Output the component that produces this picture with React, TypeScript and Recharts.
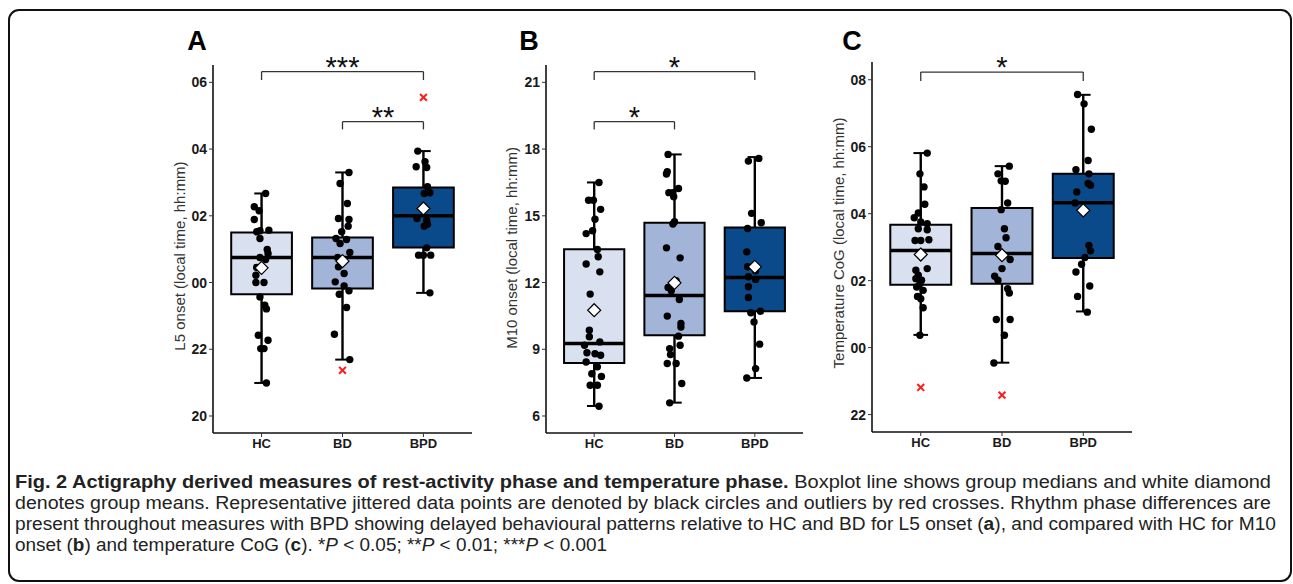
import React from 'react';
import {
  ScatterChart, Scatter, XAxis, YAxis, ReferenceArea, ReferenceLine,
} from 'recharts';

// ---------- data ----------
const CATEGORIES = ['HC', 'BD', 'BPD'];
const BOX_FILLS = ['#d9e0ef', '#a2b4d8', '#0a4a8a'];

// Panel A: L5 onset (hours, 24 = 00:00)
const A_TICKS = [20, 22, 24, 26, 28, 30];
const A_BOX = [
  { q1: 23.65, med: 24.75, q3: 25.5, lo: 20.99, hi: 26.67, mean: 24.44 },
  { q1: 23.82, med: 24.75, q3: 25.35, lo: 21.69, hi: 27.3, mean: 24.64 },
  { q1: 25.05, med: 26.0, q3: 26.85, lo: 23.69, hi: 27.94, mean: 26.22 },
];
const A_HC = [
  [0.05, 26.67], [-0.09, 26.27], [-0.03, 26.15], [-0.09, 25.89], [-0.06, 25.52], [-0.02, 25.55],
  [0.09, 25.57], [-0.02, 25.32], [0.07, 24.99], [0.08, 24.87], [-0.02, 24.75], [0.05, 24.69],
  [-0.06, 24.45], [-0.07, 24.22], [-0.07, 24.0], [0.03, 24.0], [-0.02, 23.57], [0.04, 23.32],
  [0.06, 23.21], [-0.04, 22.42], [0.08, 22.27], [-0.01, 22.02], [0.03, 22.02], [0.06, 20.99],
];
const A_BD = [
  [0.08, 27.3], [-0.03, 26.97], [0.06, 26.37], [-0.05, 25.92], [0.08, 25.89], [0.07, 25.69],
  [-0.01, 25.52], [-0.08, 25.32], [0.05, 25.29], [-0.03, 25.17], [0.09, 24.9], [-0.06, 24.75],
  [-0.05, 24.47], [0.02, 24.27], [-0.09, 24.02], [0.02, 23.9], [-0.04, 23.65], [0.08, 23.75],
  [0.05, 23.25], [-0.1, 22.45], [0.09, 21.69],
];
const A_BPD = [
  [-0.07, 27.94], [0.02, 27.62], [-0.09, 27.47], [0.04, 27.45], [0.05, 26.87], [0.08, 26.69],
  [0.01, 26.67], [-0.08, 25.92], [0.04, 25.87], [0.01, 25.69], [0.05, 25.75], [0.04, 25.04],
  [-0.06, 24.82], [0.0, 24.82], [0.09, 24.82], [0.08, 23.69],
];
const A_OUTLIERS = [[2, 21.37], [3, 29.55]];
const A_BRACKETS = [
  { from: 1, to: 3, y: 30.32, drop: 30.07, label: '***' },
  { from: 2, to: 3, y: 28.82, drop: 28.59, label: '**' },
];

// Panel B: M10 onset (hours)
const B_TICKS = [6, 9, 12, 15, 18, 21];
const B_BOX = [
  { q1: 8.385, med: 9.255, q3: 13.5, lo: 6.45, hi: 16.5, mean: 10.755 },
  { q1: 9.63, med: 11.415, q3: 14.685, lo: 6.6, hi: 17.76, mean: 11.985 },
  { q1: 10.71, med: 12.225, q3: 14.475, lo: 7.71, hi: 17.64, mean: 12.705 },
];
const B_HC = [
  [0.06, 16.5], [-0.07, 15.7], [-0.01, 15.7], [0.08, 15.29], [0.01, 14.85], [-0.02, 14.33],
  [-0.1, 14.2], [0.04, 13.49], [0.05, 13.16], [-0.1, 12.83], [0.07, 12.48], [-0.05, 11.48],
  [-0.06, 9.86], [-0.06, 9.56], [-0.12, 9.18], [0.07, 9.33], [-0.09, 8.84], [0.01, 8.8],
  [0.08, 8.73], [-0.1, 8.43], [0.04, 8.21], [-0.03, 7.9], [0.09, 7.78], [-0.05, 7.38],
  [0.04, 7.38], [0.06, 6.44],
];
const B_BD = [
  [-0.08, 17.76], [-0.1, 16.88], [-0.09, 16.98], [0.05, 16.23], [-0.07, 16.04], [-0.02, 16.04],
  [-0.01, 15.86], [0.0, 14.73], [-0.02, 14.63], [-0.1, 13.56], [0.07, 13.11], [0.02, 12.08],
  [-0.08, 11.78], [-0.04, 11.63], [0.06, 11.24], [-0.09, 10.49], [0.08, 10.16], [0.08, 10.0],
  [0.05, 9.59], [-0.06, 9.03], [-0.05, 8.76], [0.07, 9.18], [-0.09, 8.36], [0.02, 8.36],
  [0.09, 7.46], [-0.06, 6.59],
];
const B_BPD = [
  [-0.08, 17.46], [0.05, 17.58], [-0.04, 15.11], [0.08, 14.69], [-0.09, 14.43], [-0.1, 13.38],
  [-0.09, 12.71], [0.01, 12.53], [-0.08, 12.26], [0.01, 12.14], [-0.08, 11.81], [-0.08, 11.33],
  [-0.05, 10.64], [0.07, 10.71], [-0.01, 10.23], [0.06, 9.23], [0.01, 8.13], [-0.1, 7.71],
];
const B_OUTLIERS = [];
const B_BRACKETS = [
  { from: 1, to: 3, y: 21.48, drop: 21.1, label: '*' },
  { from: 1, to: 2, y: 19.23, drop: 18.885, label: '*' },
];

// Panel C: Temperature CoG (hours, 24 = 00:00)
const C_TICKS = [22, 24, 26, 28, 30, 32];
const C_BOX = [
  { q1: 25.88, med: 26.9, q3: 27.67, lo: 24.38, hi: 29.81, mean: 26.78 },
  { q1: 25.91, med: 26.81, q3: 28.17, lo: 23.55, hi: 29.42, mean: 26.76 },
  { q1: 26.68, med: 28.33, q3: 29.19, lo: 25.08, hi: 31.55, mean: 28.1 },
];
const C_HC = [
  [0.08, 29.81], [-0.01, 29.19], [0.04, 28.8], [0.05, 28.28], [-0.08, 27.88], [-0.03, 28.02],
  [0.0, 27.75], [0.08, 27.7], [-0.03, 27.55], [0.08, 27.52], [-0.07, 27.2], [0.0, 27.2],
  [0.1, 27.22], [0.08, 26.36], [-0.06, 26.31], [-0.03, 26.16], [-0.06, 26.06], [0.01, 26.01],
  [-0.01, 25.91], [-0.05, 25.81], [0.03, 25.71], [-0.04, 25.53], [0.0, 25.46], [0.03, 25.19],
  [-0.01, 24.37],
];
const C_BD = [
  [0.09, 29.42], [-0.05, 29.19], [-0.01, 28.98], [0.04, 28.97], [0.07, 28.32], [-0.01, 28.12],
  [0.03, 27.55], [0.05, 27.28], [-0.05, 27.02], [0.1, 26.63], [0.0, 26.36], [-0.09, 26.13],
  [-0.05, 26.01], [0.07, 25.76], [0.09, 25.63], [-0.07, 24.84], [0.1, 24.84], [0.03, 24.37],
  [-0.1, 23.54],
];
const C_BPD = [
  [-0.07, 31.56], [0.01, 31.28], [0.1, 30.52], [0.06, 29.59], [-0.09, 29.31], [0.07, 29.19],
  [0.06, 28.9], [0.09, 28.85], [-0.08, 28.65], [-0.1, 28.32], [0.07, 27.05], [0.09, 26.89],
  [0.02, 26.69], [-0.02, 26.49], [-0.09, 26.26], [0.08, 25.84], [-0.07, 25.53], [0.05, 25.06],
];
const C_OUTLIERS = [[1, 22.81], [2, 22.58]];
const C_BRACKETS = [
  { from: 1, to: 3, y: 32.23, drop: 31.96, label: '*' },
];

const CAPTION_BOLD_1 = 'Fig. 2 Actigraphy derived measures of rest-activity phase and temperature phase.';
const CAPTION_1 = ' Boxplot line shows group medians and white diamond';
const CAPTION_2 = 'denotes group means. Representative jittered data points are denoted by black circles and outliers by red crosses. Rhythm phase differences are';
const CAPTION_3 = 'present throughout measures with BPD showing delayed behavioural patterns relative to HC and BD for L5 onset (';
const CAPTION_3B = '), and compared with HC for M10';

// ---------- helpers ----------
const hourFmt = (v: number) => String(((v % 24) + 24) % 24).padStart(2, '0');
const plainFmt = (v: number) => String(v);

const FONT = '"Liberation Sans", Arial, sans-serif';

const Dot = (p: any) => <circle cx={p.cx} cy={p.cy} r={3.7} fill="#000" />;
const Diamond = (p: any) => (
  <polygon
    points={`${p.cx},${p.cy - 6.5} ${p.cx + 6.5},${p.cy} ${p.cx},${p.cy + 6.5} ${p.cx - 6.5},${p.cy}`}
    fill="#fff" stroke="#000" strokeWidth={1.2}
  />
);
const Cross = (p: any) => (
  <g stroke="#ff1a1a" strokeWidth={2}>
    <line x1={p.cx - 3.4} y1={p.cy - 3.4} x2={p.cx + 3.4} y2={p.cy + 3.4} />
    <line x1={p.cx - 3.4} y1={p.cy + 3.4} x2={p.cx + 3.4} y2={p.cy - 3.4} />
  </g>
);
const Stars = (p: any) => (
  <text x={p.cx} y={p.cy + 5} textAnchor="middle" fontSize={29} fontFamily={FONT} fill="#111">
    {p.payload.label}
  </text>
);

type PanelProps = {
  box: any[]; groups: number[][][]; outliers: number[][]; brackets: any[];
  domain: [number, number]; ticks: number[]; fmt: (v: number) => string;
  plot: { l: number; r: number; t: number; b: number };
};

function Panel({ box, groups, outliers, brackets, domain, ticks, fmt, plot }: PanelProps) {
  const ML = 10, YW = 50, MT = 50, MR = 10, MB = 5, XH = 25;
  const W = plot.r - plot.l + ML + YW + MR;
  const H = plot.b - plot.t + MT + MB + XH;
  const points = groups.flatMap((g, i) => g.map(([dx, v]) => ({ x: i + 1 + dx, y: v })));
  const means = box.map((b, i) => ({ x: i + 1, y: b.mean }));
  const outs = outliers.map(([c, v]) => ({ x: c, y: v }));
  const stars = brackets.map((b) => ({ x: (b.from + b.to) / 2, y: b.y, label: b.label }));
  const HW = 0.375, CAP = 0.09;
  return (
    <div style={{ position: 'absolute', left: plot.l - ML - YW, top: plot.t - MT }}>
      <ScatterChart width={W} height={H} margin={{ top: MT, right: MR, bottom: MB, left: ML }}>
        <XAxis
          type="number" dataKey="x" domain={[0.4, 3.6]} ticks={[1, 2, 3]}
          tickFormatter={(v: number) => CATEGORIES[v - 1]} height={XH} interval={0}
          axisLine={{ stroke: '#111', strokeWidth: 1.6 }} tickLine={{ stroke: '#333' }} tickSize={4}
          tick={{ fontSize: 13, fontWeight: 700, fill: '#1a1a1a', fontFamily: FONT }}
        />
        <YAxis
          type="number" dataKey="y" domain={domain} ticks={ticks} width={YW}
          tickFormatter={fmt} interval={0}
          axisLine={{ stroke: '#111', strokeWidth: 1.6 }} tickLine={{ stroke: '#333' }} tickSize={4}
          tick={{ fontSize: 14, fontWeight: 700, fill: '#1a1a1a', fontFamily: FONT }}
        />
        {box.map((b, i) => (
          <ReferenceLine key={`wt${i}`} segment={[{ x: i + 1, y: b.q3 }, { x: i + 1, y: b.hi }]} stroke="#000" strokeWidth={2.4} ifOverflow="visible" />
        ))}
        {box.map((b, i) => (
          <ReferenceLine key={`wb${i}`} segment={[{ x: i + 1, y: b.lo }, { x: i + 1, y: b.q1 }]} stroke="#000" strokeWidth={2.4} ifOverflow="visible" />
        ))}
        {box.map((b, i) => (
          <ReferenceLine key={`ct${i}`} segment={[{ x: i + 1 - CAP, y: b.hi }, { x: i + 1 + CAP, y: b.hi }]} stroke="#000" strokeWidth={2} ifOverflow="visible" />
        ))}
        {box.map((b, i) => (
          <ReferenceLine key={`cb${i}`} segment={[{ x: i + 1 - CAP, y: b.lo }, { x: i + 1 + CAP, y: b.lo }]} stroke="#000" strokeWidth={2} ifOverflow="visible" />
        ))}
        {box.map((b, i) => (
          <ReferenceArea key={`bx${i}`} x1={i + 1 - HW} x2={i + 1 + HW} y1={b.q1} y2={b.q3}
            fill={BOX_FILLS[i]} fillOpacity={1} stroke="#000" strokeWidth={2} ifOverflow="visible" />
        ))}
        {box.map((b, i) => (
          <ReferenceLine key={`md${i}`} segment={[{ x: i + 1 - HW, y: b.med }, { x: i + 1 + HW, y: b.med }]} stroke="#000" strokeWidth={3.5} ifOverflow="visible" />
        ))}
        {brackets.map((b, i) => (
          <ReferenceLine key={`bh${i}`} segment={[{ x: b.from, y: b.y }, { x: b.to, y: b.y }]} stroke="#333" strokeWidth={1.3} ifOverflow="visible" />
        ))}
        {brackets.map((b, i) => (
          <ReferenceLine key={`bl${i}`} segment={[{ x: b.from, y: b.drop }, { x: b.from, y: b.y }]} stroke="#333" strokeWidth={1.3} ifOverflow="visible" />
        ))}
        {brackets.map((b, i) => (
          <ReferenceLine key={`br${i}`} segment={[{ x: b.to, y: b.drop }, { x: b.to, y: b.y }]} stroke="#333" strokeWidth={1.3} ifOverflow="visible" />
        ))}
        <Scatter data={points} shape={Dot} isAnimationActive={false} />
        <Scatter data={means} shape={Diamond} isAnimationActive={false} />
        <Scatter data={outs} shape={Cross} isAnimationActive={false} />
        <Scatter data={stars} shape={Stars} isAnimationActive={false} />
      </ScatterChart>
    </div>
  );
}

export default function App() {
  const capFont = '"Liberation Sans", Arial, sans-serif';
  return (
    <div style={{ position: 'absolute', left: 0, top: 0, width: 1293, height: 584, background: '#fff' }}>
      <svg width={1293} height={584} style={{ position: 'absolute', left: 0, top: 0 }}>
        <rect x={9} y={10} width={1282} height={571} rx={10} fill="none" stroke="#111" strokeWidth={2} />
        <g fontFamily={FONT} fontWeight={700} fontSize={27} fill="#000" textAnchor="middle">
          <text x={197} y={50}>A</text>
          <text x={529} y={50}>B</text>
          <text x={852} y={50}>C</text>
        </g>
        <g fontFamily={FONT} fontSize={15} fill="#333" textAnchor="middle">
          <text transform="translate(185,256) rotate(-90)">L5 onset (local time, hh:mm)</text>
          <text transform="translate(517,248) rotate(-90)">M10 onset (local time, hh:mm)</text>
          <text transform="translate(844,243) rotate(-90)">Temperature CoG (local time, hh:mm)</text>
        </g>
        <g fontFamily={capFont} fontSize={17.5} fill="#222">
          <text x={15} y={488} textLength={1256} lengthAdjust="spacingAndGlyphs">
            <tspan fontWeight={700}>{CAPTION_BOLD_1}</tspan>
            <tspan>{CAPTION_1}</tspan>
          </text>
          <text x={15} y={509} textLength={1256} lengthAdjust="spacingAndGlyphs">{CAPTION_2}</text>
          <text x={15} y={530} textLength={1261} lengthAdjust="spacingAndGlyphs">
            <tspan>{CAPTION_3}</tspan>
            <tspan fontWeight={700}>a</tspan>
            <tspan>{CAPTION_3B}</tspan>
          </text>
          <text x={15} y={551} textLength={592} lengthAdjust="spacingAndGlyphs">
            <tspan>onset (</tspan>
            <tspan fontWeight={700}>b</tspan>
            <tspan>) and temperature CoG (</tspan>
            <tspan fontWeight={700}>c</tspan>
            <tspan>). *</tspan>
            <tspan fontStyle="italic">P</tspan>
            <tspan> {'<'} 0.05; **</tspan>
            <tspan fontStyle="italic">P</tspan>
            <tspan> {'<'} 0.01; ***</tspan>
            <tspan fontStyle="italic">P</tspan>
            <tspan> {'<'} 0.001</tspan>
          </text>
        </g>
      </svg>
      <Panel box={A_BOX} groups={[A_HC, A_BD, A_BPD]} outliers={A_OUTLIERS} brackets={A_BRACKETS}
        domain={[19.49, 30.52]} ticks={A_TICKS} fmt={hourFmt} plot={{ l: 213, r: 472, t: 65, b: 433 }} />
      <Panel box={B_BOX} groups={[B_HC, B_BD, B_BPD]} outliers={B_OUTLIERS} brackets={B_BRACKETS}
        domain={[5.235, 21.78]} ticks={B_TICKS} fmt={plainFmt} plot={{ l: 546, r: 803, t: 65, b: 433 }} />
      <Panel box={C_BOX} groups={[C_HC, C_BD, C_BPD]} outliers={C_OUTLIERS} brackets={C_BRACKETS}
        domain={[21.48, 32.53]} ticks={C_TICKS} fmt={hourFmt} plot={{ l: 872, r: 1132, t: 62, b: 432 }} />
    </div>
  );
}
